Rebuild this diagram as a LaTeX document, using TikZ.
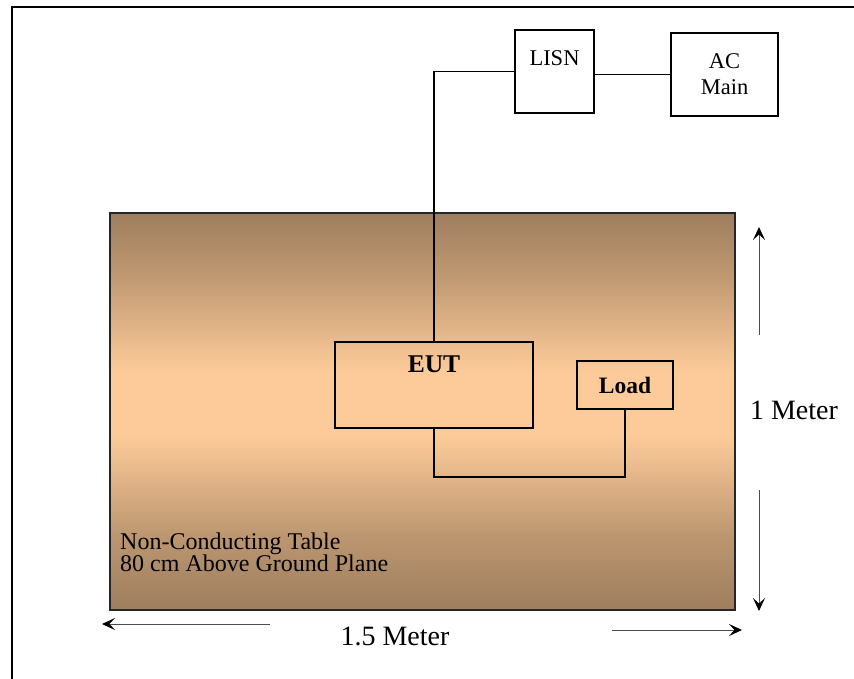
\documentclass[tikz,border=0pt]{standalone}
\usepackage{fontspec}
\setmainfont{Liberation Serif}
\usetikzlibrary{arrows.meta}

\definecolor{tableedge}{RGB}{158,126,94}
\definecolor{tablemid}{RGB}{253,203,153}

% table top: dark edges with a broad light band just above the middle
% (the path is mapped onto the 25bp..75bp part of the shading)
\pgfdeclareverticalshading{tableshade}{100bp}{%
  color(0bp)=(tableedge);
  color(25bp)=(tableedge);
  color(34bp)=(tableedge!70!tablemid);
  color(47bp)=(tablemid);
  color(55bp)=(tablemid);
  color(67bp)=(tableedge!65!tablemid);
  color(75bp)=(tableedge);
  color(100bp)=(tableedge)}

\tikzset{
  unitbox/.style={draw=black, line width=2pt, fill=white, inner sep=0pt,
    font=\fontsize{22.5}{26}\selectfont, align=center},
  devbox/.style={draw=black, line width=2pt, inner sep=0pt,
    font=\bfseries\fontsize{23.5}{26}\selectfont},
  wire/.style={draw=black, line width=1.8pt},
  dimline/.style={draw=black!70, line width=1pt,
    -{Stealth[length=13pt,width=12pt,inset=5.5pt,color=black]}},
  dimtext/.style={font=\fontsize{28}{30}\selectfont, inner sep=0pt},
  tabletext/.style={font=\fontsize{24}{22}\selectfont, align=left,
    anchor=west, inner sep=0pt}
}

\begin{document}
\begin{tikzpicture}[x=1pt, y=-1pt]
  \useasboundingbox (0,0) rectangle (854,679);
  \clip (0,0) rectangle (854,679);

  % page frame (runs off the right and bottom edges)
  \draw[line width=2.4pt] (12,700) -- (12,7) -- (870,7);

  % non-conducting table with a shaded top
  \path[shading=tableshade] (110,213) rectangle (735,610);
  \draw[line width=2.2pt, draw=black!85] (110,213) rectangle (735,610);
  \node[tabletext] (tablelabel) at (120,552)
    {Non-Conducting Table\\80 cm Above Ground Plane};

  % supply side
  \node[unitbox, minimum width=79pt, minimum height=83pt] (lisn) at (554.5,71.5) {};
  \node[font=\fontsize{22.5}{26}\selectfont, inner sep=0pt] (lisntext) at (554.5,58) {LISN};
  \node[unitbox, minimum width=107pt, minimum height=83pt] (acmain) at (724.5,74.5) {AC\\Main};

  % equipment on the table
  \node[devbox, minimum width=198pt, minimum height=86pt] (eut) at (434,385) {};
  \node[font=\bfseries\fontsize{25.5}{28}\selectfont, inner sep=0pt] (euttext) at (434,364) {EUT};
  \node[devbox, minimum width=96pt, minimum height=48pt] (load) at (625,385) {Load};

  % wiring
  \draw[wire] (lisn.west) -| (eut.north);
  \draw[wire] (lisn.east |- acmain.west) -- (acmain.west);
  \coordinate (loopbase) at (0,477);
  \draw[wire] (eut.south) -- (eut.south |- loopbase) -| (load.south);

  % dimensions
  \coordinate (vtopstart) at (759,335);
  \coordinate (vtopend) at (759,227);
  \coordinate (vbotstart) at (759,490);
  \coordinate (vbotend) at (759,611);
  \draw[dimline] (vtopstart) -- (vtopend);
  \draw[dimline] (vbotstart) -- (vbotend);
  \node[dimtext] (heightlabel) at (794,410) {1 Meter};

  \coordinate (hleftstart) at (270,624);
  \coordinate (hleftend) at (102,624);
  \coordinate (hrightstart) at (612,630);
  \coordinate (hrightend) at (742,630);
  \draw[dimline] (hleftstart) -- (hleftend);
  \draw[dimline] (hrightstart) -- (hrightend);
  \node[dimtext] (widthlabel) at (395,636) {1.5 Meter};
\end{tikzpicture}
\end{document}
